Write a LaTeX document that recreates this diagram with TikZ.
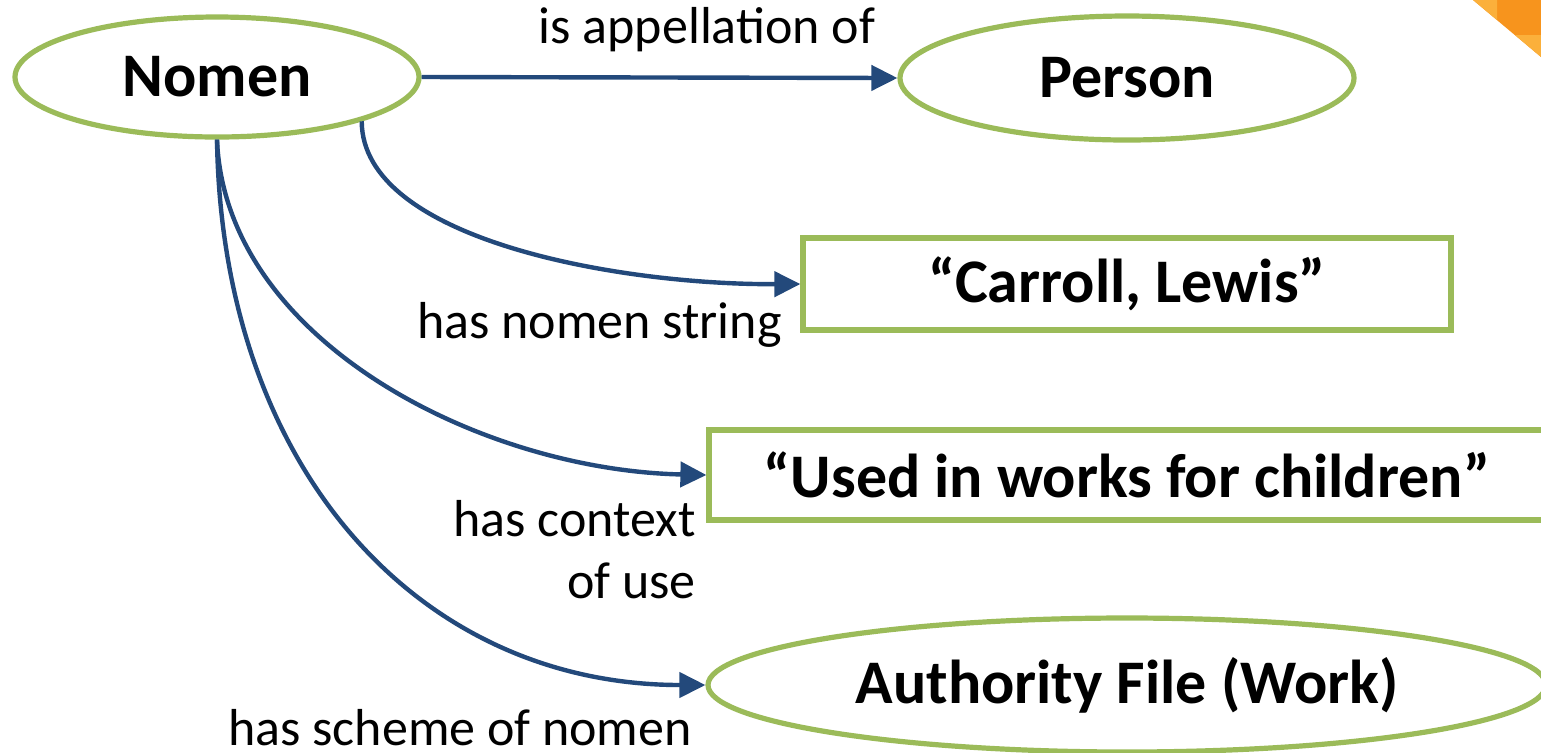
\documentclass[tikz,border=0pt]{standalone}
\usepackage{fontspec}
\setmainfont{Carlito}
\usetikzlibrary{shapes.geometric,arrows.meta}
\definecolor{nodegreen}{HTML}{9BBB59}
\definecolor{linkblue}{HTML}{23497B}
\definecolor{cornerorange}{HTML}{F7941D}
\definecolor{cornerlight}{HTML}{FBB03B}
\tikzset{
    ell/.style={ellipse, draw=nodegreen, line width=2.6pt, inner sep=0pt,
        font=\fontsize{31}{37}\selectfont\bfseries},
    box/.style={rectangle, draw=nodegreen, line width=2.6pt, inner sep=0pt,
        font=\fontsize{31}{37}\selectfont\bfseries},
    link/.style={draw=linkblue, line width=2.2pt, -{Triangle[length=13pt,width=12.5pt]}},
    lbl/.style={font=\fontsize{26}{31}\selectfont, inner sep=0pt}
}
\begin{document}
\begin{tikzpicture}[x=0.5pt, y=-0.5pt]
    \useasboundingbox (0,0) rectangle (1541,752);
    \clip (0,0) rectangle (1541,752);
    % corner decoration
    \fill[cornerorange] (1473,0) -- (1541,0) -- (1541,57) -- cycle;
    \fill[cornerlight] (1473,0) -- (1497,0) -- (1497,20) -- cycle;
    \fill[cornerlight] (1515,35) -- (1541,35) -- (1541,57) -- cycle;
    % nodes
    \node[ell, minimum width=202pt, minimum height=60pt] (nomen) at (217,77) {Nomen};
    \node[ell, minimum width=227pt, minimum height=62pt] (person) at (1127,78) {Person};
    \node[box, minimum width=324pt, minimum height=46pt] (carroll) at (1127,284) {“Carroll, Lewis”};
    \node[box, minimum width=418pt, minimum height=45pt] (used) at (1127,475) {“Used in works for children”};
    \node[ell, minimum width=419pt, minimum height=67pt] (auth) at (1127,685) {Authority File (Work)};
    % links
    \draw[link] (nomen.east) -- (person.west);
    \draw[link] (nomen.-17) .. controls (362,240) and (620,285) .. (carroll.west);
    \draw[link] (nomen.south) .. controls (225,340) and (480,470) .. (used.west);
    \draw[link] (nomen.south) .. controls (222,470) and (420,685) .. (auth.west);
    % labels
    \node[lbl] (appel) at (707,30) {is appellation of};
    \node[lbl, anchor=east] (string) at (782,325) {has nomen string};
    \node[lbl, anchor=north east, align=right] (context) at (696,500) {has context\\of use};
    \node[lbl] (scheme) at (460,728) {has scheme of nomen};
\end{tikzpicture}
\end{document}
